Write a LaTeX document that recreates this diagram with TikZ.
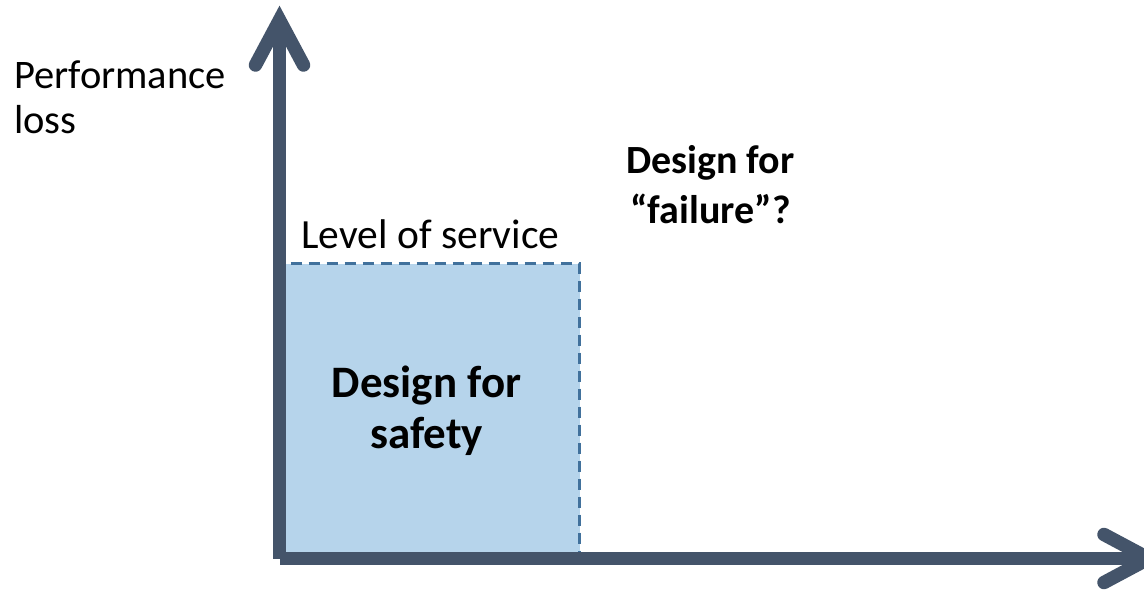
\documentclass[tikz,border=0pt]{standalone}
\usepackage{fontspec}
\setmainfont{Carlito}
\usetikzlibrary{calc}
\definecolor{axiscol}{RGB}{68,84,106}
\definecolor{zonefill}{RGB}{182,212,235}
\definecolor{zoneline}{RGB}{65,113,156}
\tikzset{
  axisline/.style={draw=axiscol, line width=13.5pt, line cap=butt},
  axishead/.style={draw=axiscol, line width=13.5pt, line cap=round, line join=miter},
  zone/.style={fill=zonefill, draw=zoneline, line width=3pt, dash pattern=on 11pt off 7pt},
  plain/.style={inner sep=0pt, font=\fontsize{40.5}{45}\selectfont},
  boldtext/.style={inner sep=0pt, align=center, font=\fontsize{40}{50}\selectfont\bfseries},
}
\begin{document}
\begin{tikzpicture}[x=1pt,y=-1pt]
\useasboundingbox (0,0) rectangle (1144,591);

% origin and axis ends
\coordinate (O) at (279.5,558.5);
\coordinate (ytip) at (279.5,20);
\coordinate (xtip) at (1149,558.5);
\coordinate (svc) at (579.5,263.5);

% level-of-service zone
\path[zone] (O) rectangle (svc);

% axes
\draw[axisline] (O) -- (ytip);
\draw[axisline] (O) -- (xtip);
\draw[axishead] ($(ytip)+(-24,45)$) -- (ytip) -- ($(ytip)+(24,45)$);
\draw[axishead] ($(xtip)+(-45,-24)$) -- (xtip) -- ($(xtip)+(-45,24)$);

% labels
\node[plain, align=left, anchor=west] (perf) at (14,97) {Performance\\loss};
\node[plain, anchor=base, font=\fontsize{41.5}{45}\selectfont] (los) at (430.5,248) {Level of service};
\node[boldtext, font=\fontsize{45}{51}\selectfont\bfseries] (safety) at (426.7,411) {Design for\\safety};
\node[boldtext] (failure) at (710.5,184.5) {Design for\\“failure”?};
\end{tikzpicture}
\end{document}
